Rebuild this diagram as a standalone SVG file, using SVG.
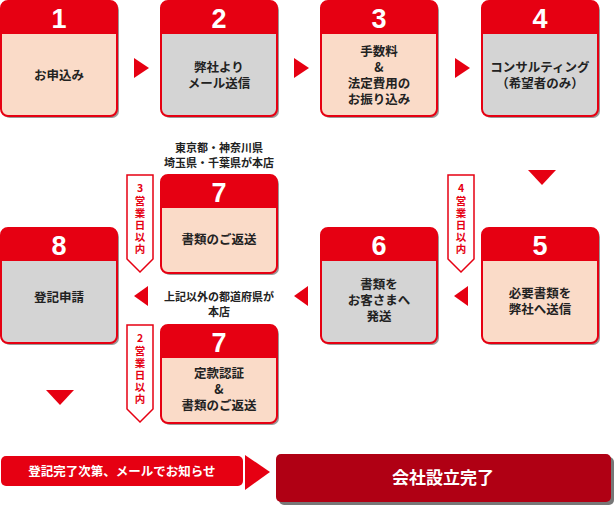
<svg xmlns="http://www.w3.org/2000/svg" width="615" height="507" viewBox="0 0 615 507">
<style>
.sh{fill:#9a9a9a}
.bd{stroke:#e60012;stroke-width:2}
.pe{fill:#fadbc8}
.gr{fill:#d4d4d4}
.hd{fill:#e60012}
.num{font-family:"Liberation Sans",Arial,sans-serif;font-weight:bold;font-size:27px;fill:#fff;text-anchor:middle}
.t{font-family:"Noto Sans CJK JP",sans-serif;font-weight:bold;font-size:12.5px;fill:#222;text-anchor:middle}
.s{font-family:"Noto Sans CJK JP",sans-serif;font-weight:bold;font-size:11px;fill:#222;text-anchor:middle}
.tag{fill:#fff;stroke:#e60012;stroke-width:1.5}
.tt{font-family:"Noto Sans CJK JP",sans-serif;font-weight:bold;font-size:10.5px;fill:#e60012;text-anchor:middle}
.ar{fill:#e60012}
</style>
<defs>
<g id="pe"><rect x="3" y="3" width="116" height="115" rx="7" class="sh"/><rect x="1" y="1" width="116" height="115" rx="7" class="pe bd"/><path d="M1 34V8a7 7 0 0 1 7-7h102a7 7 0 0 1 7 7v26z" class="hd"/></g>
<g id="gr"><rect x="3" y="3" width="116" height="115" rx="7" class="sh"/><rect x="1" y="1" width="116" height="115" rx="7" class="gr bd"/><path d="M1 34V8a7 7 0 0 1 7-7h102a7 7 0 0 1 7 7v26z" class="hd"/></g>
<g id="pe7"><rect x="3" y="3" width="116" height="98" rx="7" class="sh"/><rect x="1" y="1" width="116" height="98" rx="7" class="pe bd"/><path d="M1 34V8a7 7 0 0 1 7-7h102a7 7 0 0 1 7 7v26z" class="hd"/></g>
<path id="tg" d="M0 0H26V84L13 97L0 84Z"/>
</defs>
<g id="connectors">
<path class="ar" d="M134 58L149 68L134 78Z"/>
<path class="ar" d="M294 58L309 68L294 78Z"/>
<path class="ar" d="M455 58L470 68L455 78Z"/>
<path class="ar" d="M528 170L556 170L542 185Z"/>
<path class="ar" d="M468 286L454 296L468 306Z"/>
<path class="ar" d="M308 286L294 296L308 306Z"/>
<path class="ar" d="M148 286L134 296L148 306Z"/>
<path class="ar" d="M46 390L74 390L60 405Z"/>
<path class="ar" d="M245 455L270 472L245 490Z"/>
</g>
<g id="n1"><use href="#pe" x="0" y="0"/><text class="num" x="59" y="28">1</text><text class="t" x="59" y="80">お申込み</text></g>
<g id="n2"><use href="#gr" x="160" y="0"/><text class="num" x="219" y="28">2</text><text class="t" x="219" y="72">弊社より</text><text class="t" x="219" y="88">メール送信</text></g>
<g id="n3"><use href="#pe" x="320" y="0"/><text class="num" x="379" y="28">3</text><text class="t" x="379" y="56">手数料</text><text class="t" x="379" y="72">&amp;</text><text class="t" x="379" y="88">法定費用の</text><text class="t" x="379" y="104">お振り込み</text></g>
<g id="n4"><use href="#gr" x="481" y="0"/><text class="num" x="540" y="28">4</text><text class="t" x="540" y="72">コンサルティング</text><text class="t" x="540" y="88">（希望者のみ）</text></g>
<g id="n5"><use href="#pe" x="481" y="227"/><text class="num" x="540" y="255">5</text><text class="t" x="540" y="298">必要書類を</text><text class="t" x="540" y="314">弊社へ送信</text></g>
<g id="n6"><use href="#gr" x="320" y="227"/><text class="num" x="379" y="255">6</text><text class="t" x="379" y="289">書類を</text><text class="t" x="379" y="305">お客さまへ</text><text class="t" x="379" y="321">発送</text></g>
<g id="n7a"><text class="s" x="219" y="152">東京都・神奈川県</text><text class="s" x="219" y="167">埼玉県・千葉県が本店</text><use href="#pe7" x="160" y="174"/><text class="num" x="219" y="202">7</text><text class="t" x="219" y="244">書類のご返送</text></g>
<g id="n7b"><text class="s" x="219" y="301">上記以外の都道府県が</text><text class="s" x="219" y="316">本店</text><use href="#pe7" x="160" y="324"/><text class="num" x="219" y="352">7</text><text class="t" x="219" y="378">定款認証</text><text class="t" x="219" y="394">&amp;</text><text class="t" x="219" y="410">書類のご返送</text></g>
<g id="n8"><use href="#gr" x="0" y="227"/><text class="num" x="59" y="255">8</text><text class="t" x="59" y="302">登記申請</text></g>
<g id="tag3"><use href="#tg" x="127" y="175" class="tag"/><text class="tt" x="140" y="192">3</text><text class="tt" x="140" y="205">営</text><text class="tt" x="140" y="217">業</text><text class="tt" x="140" y="229">日</text><text class="tt" x="140" y="241">以</text><text class="tt" x="140" y="253">内</text></g>
<g id="tag4"><use href="#tg" x="448" y="175" class="tag"/><text class="tt" x="461" y="192">4</text><text class="tt" x="461" y="205">営</text><text class="tt" x="461" y="217">業</text><text class="tt" x="461" y="229">日</text><text class="tt" x="461" y="241">以</text><text class="tt" x="461" y="253">内</text></g>
<g id="tag2"><use href="#tg" x="127" y="325" class="tag"/><text class="tt" x="140" y="342">2</text><text class="tt" x="140" y="355">営</text><text class="tt" x="140" y="367">業</text><text class="tt" x="140" y="379">日</text><text class="tt" x="140" y="391">以</text><text class="tt" x="140" y="403">内</text></g>
<g id="notice"><rect x="1" y="456" width="242" height="30" rx="5" fill="#e60012"/><text x="122" y="476" font-family="'Noto Sans CJK JP',sans-serif" font-weight="bold" font-size="12.5" fill="#fff" text-anchor="middle">登記完了次第、メールでお知らせ</text></g>
<g id="done"><rect x="279" y="457" width="335" height="48" rx="5" fill="#777"/><rect x="276" y="454" width="335" height="48" rx="5" fill="#b00014"/><text x="443" y="484" font-family="'Noto Sans CJK JP',sans-serif" font-weight="bold" font-size="17" fill="#fff" text-anchor="middle">会社設立完了</text></g>
</svg>
